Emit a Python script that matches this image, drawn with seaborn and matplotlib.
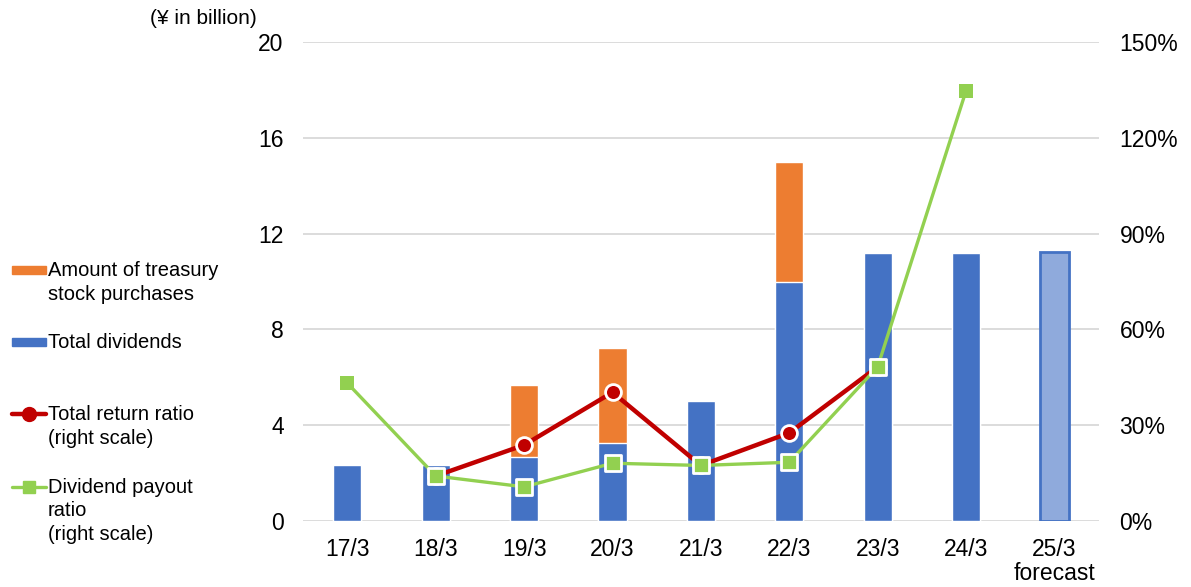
import numpy as np
import pandas as pd
import matplotlib
matplotlib.use("Agg")
import matplotlib.pyplot as plt
from matplotlib.lines import Line2D
from matplotlib.patches import Rectangle
import seaborn as sns

# Fiscal years (March year-end)
years = ["17/3", "18/3", "19/3", "20/3", "21/3", "22/3", "23/3", "24/3", "25/3"]
year_labels = ["17/3", "18/3", "19/3", "20/3", "21/3", "22/3", "23/3", "24/3", "25/3\nforecast"]

# Shareholder returns, ¥ billion
total_dividends = [2.34, 2.33, 2.66, 3.24, 5.0, 10.0, 11.2, 11.2, 11.25]
treasury_purchases = [0.0, 0.0, 3.0, 4.0, 0.0, 5.0, 0.0, 0.0, 0.0]

# Ratios, % (right scale)
total_return_ratio = [np.nan, 14.1, 23.8, 40.3, 17.4, 27.6, 48.3, np.nan, np.nan]
dividend_payout_ratio = [43.2, 14.1, 10.7, 18.1, 17.4, 18.4, 48.3, 134.8, np.nan]

BLUE = "#4472C4"
BLUE_LIGHT = "#8FAADC"
ORANGE = "#ED7D31"
RED = "#C00000"
GREEN = "#92D050"
GRID = "#D9D9D9"

sns.set_theme(style="white")
plt.rcParams["font.family"] = ["Liberation Sans", "DejaVu Sans"]
plt.rcParams["text.color"] = "black"

df = pd.DataFrame({
    "year": years,
    "dividends": total_dividends,
    "treasury": treasury_purchases,
    "total_return": total_return_ratio,
    "payout": dividend_payout_ratio,
})
df["total"] = df["dividends"] + df["treasury"]
df["pos"] = np.arange(len(df))

fig = plt.figure(figsize=(11.91, 5.87), dpi=100)
ax = fig.add_axes([0.2545, 0.1124, 0.668, 0.816])

# Stacked bars: full height in orange, dividends drawn over it in blue
sns.barplot(data=df, x="year", y="total", color=ORANGE, width=0.32,
            saturation=1, ax=ax, zorder=2)
div_colors = [BLUE] * (len(df) - 1) + [BLUE_LIGHT]
sns.barplot(data=df, x="year", y="dividends", hue="year", palette=div_colors,
            width=0.32, saturation=1, legend=False, ax=ax, zorder=3)
# Outline the forecast bar
fc = ax.patches[-1]
fc.set_edgecolor(BLUE)
fc.set_linewidth(2)

TICK_FS = 16.5
ax.set_ylim(0, 20)
ax.set_yticks(np.arange(0, 21, 4))
ax.set_xlim(-0.5, len(df) - 0.5)
ax.set_xticks(df["pos"])
ax.set_xticklabels(year_labels)
ax.set_xlabel("")
ax.set_ylabel("")
ax.yaxis.grid(True, color=GRID, linewidth=1.3, zorder=0)
ax.set_axisbelow(True)
for s in ax.spines.values():
    s.set_visible(False)
ax.tick_params(axis="both", length=0, labelsize=TICK_FS, colors="black")
ax.tick_params(axis="y", pad=14)
ax.tick_params(axis="x", pad=12)
for lbl in ax.get_xticklabels():
    lbl.set_verticalalignment("top")
    lbl.set_linespacing(1.05)

# Ratios on the secondary axis
ax2 = ax.twinx()
sns.lineplot(data=df, x="pos", y="total_return", color=RED, linewidth=3.2,
             ax=ax2, zorder=3)
sns.lineplot(data=df, x="pos", y="payout", color=GREEN, linewidth=2.4,
             ax=ax2, zorder=4)
sns.scatterplot(data=df, x="pos", y="total_return", color=RED, marker="o",
                s=130, edgecolor="white", linewidth=2, ax=ax2, zorder=5)
edge_free = df["pos"].isin([0, 7])
sns.scatterplot(data=df[~edge_free], x="pos", y="payout", color=GREEN, marker="s",
                s=140, edgecolor="white", linewidth=2, ax=ax2, zorder=6)
sns.scatterplot(data=df[edge_free], x="pos", y="payout", color=GREEN, marker="s",
                s=110, edgecolor=GREEN, linewidth=0, ax=ax2, zorder=6)
ax2.set_ylim(0, 150)
ax2.set_yticks(np.arange(0, 151, 30))
ax2.set_yticklabels([f"{v}%" for v in range(0, 151, 30)])
ax2.set_xlim(-0.5, len(df) - 0.5)
ax2.set_ylabel("")
ax2.set_xlabel("")
for s in ax2.spines.values():
    s.set_visible(False)
ax2.tick_params(axis="y", length=0, labelsize=TICK_FS, colors="black", pad=15)
ax2.grid(False)

fig.text(150 / 1191, 1 - 19 / 587, "(¥ in billion)", fontsize=15, ha="left",
         va="center", color="black")

# Legend, drawn down the left margin
H = 587.0
W = 1191.0
def fy(py):
    return 1 - py / H
def fx(px):
    return px / W

LEG_FS = 14.5
LS = 1.3
HALF = 9  # offset from a line's centre to the top of its text, px

fig.patches.append(Rectangle((fx(12), fy(274)), fx(34), 8 / H, transform=fig.transFigure,
                             color=ORANGE, figure=fig))
fig.text(fx(48), fy(270 - HALF), "Amount of treasury\nstock purchases", fontsize=LEG_FS,
         ha="left", va="top", linespacing=LS, color="black")

fig.patches.append(Rectangle((fx(12), fy(346)), fx(34), 8 / H, transform=fig.transFigure,
                             color=BLUE, figure=fig))
fig.text(fx(48), fy(342 - HALF), "Total dividends", fontsize=LEG_FS, ha="left",
         va="top", color="black")

fig.lines.append(Line2D([fx(12), fx(46)], [fy(414), fy(414)], transform=fig.transFigure,
                        color=RED, linewidth=3.2, figure=fig))
fig.lines.append(Line2D([fx(29)], [fy(414)], transform=fig.transFigure, color=RED,
                        marker="o", markersize=10, linestyle="none", figure=fig))
fig.text(fx(48), fy(414 - HALF), "Total return ratio\n(right scale)", fontsize=LEG_FS,
         ha="left", va="top", linespacing=LS, color="black")

fig.lines.append(Line2D([fx(12), fx(46)], [fy(487), fy(487)], transform=fig.transFigure,
                        color=GREEN, linewidth=2.4, figure=fig))
fig.lines.append(Line2D([fx(29)], [fy(487)], transform=fig.transFigure, color=GREEN,
                        marker="s", markersize=9, linestyle="none", figure=fig))
fig.text(fx(48), fy(487 - HALF), "Dividend payout\nratio\n(right scale)", fontsize=LEG_FS,
         ha="left", va="top", linespacing=LS, color="black")

fig.savefig("out.png", dpi=100)
